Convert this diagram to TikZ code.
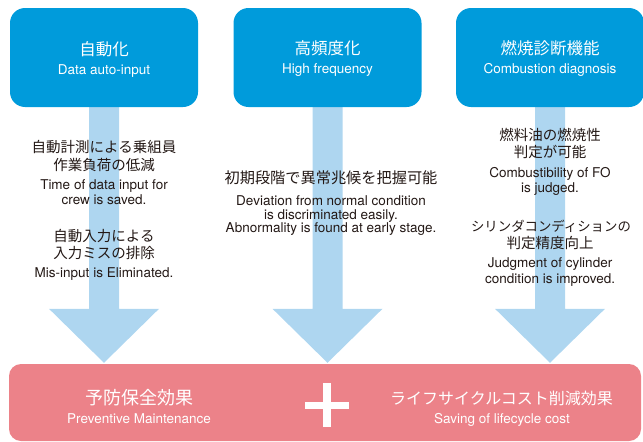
\documentclass[tikz,border=0pt]{standalone}
\usepackage{fontspec}
\usetikzlibrary{calc,backgrounds}
\newfontfamily\jp{Noto Sans CJK JP}
\newfontfamily\en{TeX Gyre Heros}
\definecolor{boxblue}{RGB}{0,155,219}
\definecolor{arrowblue}{RGB}{174,214,240}
\definecolor{pinkfill}{RGB}{236,130,137}
\definecolor{ink}{RGB}{35,24,21}
\begin{document}
\begin{tikzpicture}[x=1pt,y=-1pt,
  topbox/.style={fill=boxblue, rounded corners=15pt, minimum width=188pt, minimum height=99pt, inner sep=0pt},
  pinkbox/.style={fill=pinkfill, rounded corners=12pt, minimum width=632pt, minimum height=77pt, inner sep=0pt},
  jtop/.style={anchor=base, text=white, font=\jp\fontsize{16.5}{18}\selectfont, inner sep=0pt},
  etop/.style={anchor=base, text=white, font=\en\fontsize{13.5}{15}\selectfont, inner sep=0pt},
  jbody/.style={anchor=base, text=ink, font=\jp\fontsize{14.5}{16}\selectfont, inner sep=0pt},
  ebody/.style={anchor=base, text=ink, font=\en\fontsize{13.5}{15}\selectfont, inner sep=0pt},
  jbot/.style={anchor=base, text=white, font=\jp\fontsize{18}{20}\selectfont, inner sep=0pt},
  ebot/.style={anchor=base, text=white, font=\en\fontsize{13.5}{15}\selectfont, inner sep=0pt},
  flow/.style={fill=arrowblue}
]
\useasboundingbox (0,0) rectangle (643,442);

% top boxes
\node[topbox] (b1) at (104,57.5) {};
\node[topbox] (b2) at (327.5,57.5) {};
\node[topbox] (b3) at (550,57.5) {};
% bottom box
\node[pinkbox] (pk) at (325,402.5) {};

% arrows
\begin{scope}[on background layer]
\foreach \b in {b1,b2,b3}{
  \fill[flow] ($(\b.south)+(-15,-2)$) -- ($(\b.south)+(15,-2)$)
    -- ($(\b.south |- pk.north)+(15,-55)$) -- ($(\b.south |- pk.north)+(55,-55)$)
    -- ($(\b.south |- pk.north)+(0,-1)$)
    -- ($(\b.south |- pk.north)+(-55,-55)$) -- ($(\b.south |- pk.north)+(-15,-55)$) -- cycle;
}
\end{scope}

% box texts
\node[jtop] (b1j) at (104,55.3) {自動化};
\node[etop] (b1e) at (104,74) {Data auto-input};
\node[jtop] (b2j) at (327.5,54.5) {高頻度化};
\node[etop] (b2e) at (327.5,73) {High frequency};
\node[jtop] (b3j) at (550,54.5) {燃焼診断機能};
\node[etop] (b3e) at (550,73) {Combustion diagnosis};

% column 1
\node[jbody] (c1a) at (104,152.5) {自動計測による乗組員};
\node[jbody] (c1b) at (104,170.5) {作業負荷の低減};
\node[ebody] (c1c) at (104,189) {Time of data input for};
\node[ebody] (c1d) at (104,204) {crew is saved.};
\node[jbody] (c1e) at (104,241.5) {自動入力による};
\node[jbody] (c1f) at (104,258.5) {入力ミスの排除};
\node[ebody] (c1g) at (104,277) {Mis-input is Eliminated.};

% column 2
\node[jbody, font=\jp\fontsize{15.2}{16}\selectfont] (c2a) at (331,183.7) {初期段階で異常兆候を把握可能};
\node[ebody] (c2b) at (331,205.7) {Deviation from normal condition};
\node[ebody] (c2c) at (331,219.3) {is discriminated easily.};
\node[ebody] (c2d) at (331,232.7) {Abnormality is found at early stage.};

% column 3
\node[jbody] (c3a) at (550,140.7) {燃料油の燃焼性};
\node[jbody] (c3b) at (550,157.7) {判定が可能};
\node[ebody] (c3c) at (550,177.3) {Combustibility of FO};
\node[ebody] (c3d) at (550,192.7) {is judged.};
\node[jbody, font=\jp\fontsize{13.4}{15}\selectfont] (c3e) at (551,231.5) {シリンダコンディションの};
\node[jbody] (c3f) at (550,248.5) {判定精度向上};
\node[ebody] (c3g) at (550,267.7) {Judgment of cylinder};
\node[ebody] (c3h) at (550,283.3) {condition is improved.};

% bottom texts
\node[jbot] (p1j) at (139,404.8) {予防保全効果};
\node[ebot] (p1e) at (139,423.3) {Preventive Maintenance};
\node[jbot, font=\jp\fontsize{16}{18}\selectfont] (p2j) at (501.5,404.3) {ライフサイクルコスト削減効果};
\node[ebot] (p2e) at (502,423.3) {Saving of lifecycle cost};

% plus sign
\fill[white] (305,401.5) rectangle (349,408.5);
\fill[white] (323,383) rectangle (331,427);
\end{tikzpicture}
\end{document}
